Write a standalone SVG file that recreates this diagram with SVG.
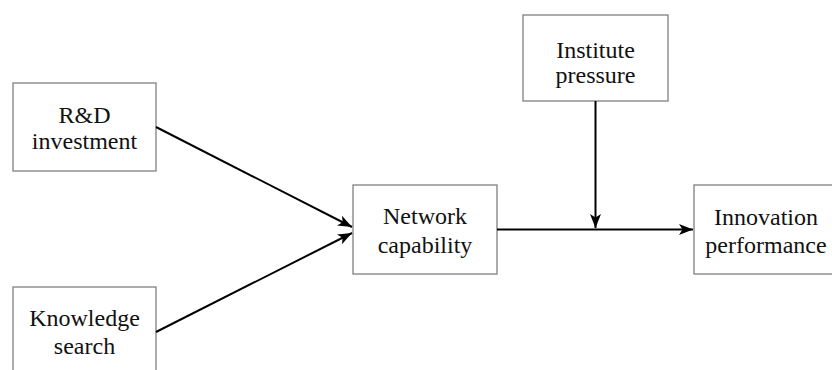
<svg xmlns="http://www.w3.org/2000/svg" width="832" height="370" viewBox="0 0 832 370">
  <defs>
    <marker id="arrow" viewBox="0 0 14 11" refX="14" refY="5.5" markerWidth="14" markerHeight="11" markerUnits="userSpaceOnUse" orient="auto">
      <path d="M0,0 L14,5.5 L0,11 L3.5,5.5 Z" fill="#000"/>
    </marker>
  </defs>
  <style>
    .box { fill: #fff; stroke: #808080; stroke-width: 1.3; }
    .label { font-family: "Liberation Serif", "Times New Roman", serif; font-size: 24px; fill: #111; text-anchor: middle; }
    .edge { stroke: #000; stroke-width: 2; fill: none; marker-end: url(#arrow); }
  </style>
  <rect width="832" height="370" fill="#fff"/>

  <g id="rd-investment">
    <rect class="box" x="13" y="83" width="143" height="88"/>
    <text class="label" x="84.5" y="122.5">R&amp;D</text>
    <text class="label" x="84.5" y="148.5">investment</text>
  </g>

  <g id="knowledge-search">
    <rect class="box" x="13" y="287" width="143" height="100"/>
    <text class="label" x="84.5" y="326">Knowledge</text>
    <text class="label" x="84.5" y="354">search</text>
  </g>

  <g id="network-capability">
    <rect class="box" x="353" y="185" width="144" height="89"/>
    <text class="label" x="425" y="224">Network</text>
    <text class="label" x="425" y="253">capability</text>
  </g>

  <g id="institute-pressure">
    <rect class="box" x="523" y="15" width="145" height="86"/>
    <text class="label" x="595.5" y="58">Institute</text>
    <text class="label" x="595.5" y="83">pressure</text>
  </g>

  <g id="innovation-performance">
    <rect class="box" x="694" y="185" width="144" height="89"/>
    <text class="label" x="766" y="225">Innovation</text>
    <text class="label" x="766" y="253">performance</text>
  </g>

  <g id="connectors">
    <line class="edge" x1="156" y1="127" x2="352" y2="227"/>
    <line class="edge" x1="156" y1="332" x2="352" y2="233"/>
    <line class="edge" x1="497" y1="229.5" x2="693" y2="229.5"/>
    <line class="edge" x1="595.5" y1="101" x2="595.5" y2="228"/>
  </g>
</svg>
